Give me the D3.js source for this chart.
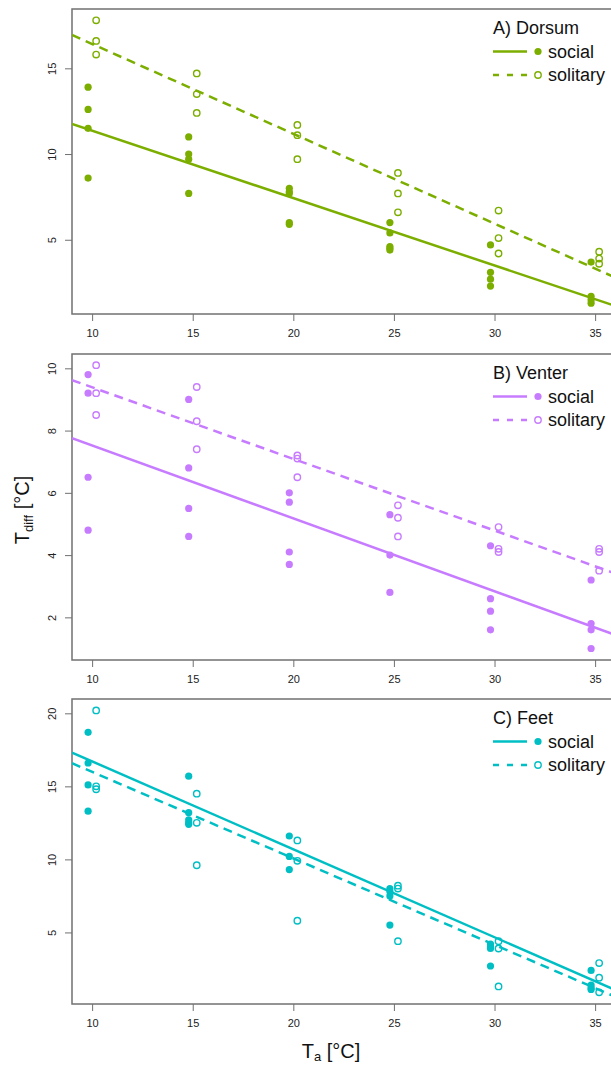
<!DOCTYPE html>
<html>
<head>
<meta charset="utf-8">
<script src="https://cdn.jsdelivr.net/npm/d3@7"></script>
<style>
  body { margin: 0; background: #fff; }
  svg { display: block; font-family: "Liberation Sans", Arial, sans-serif; }
</style>
</head>
<body>
<svg id="chart" width="611" height="1065"></svg>
<script>
// ambient temperatures (°C)
var temps = [10, 15, 20, 25, 30, 35]
var xTicks = [10, 15, 20, 25, 30, 35]

// T_diff readings per temperature
var dorsumSocial = [[13.9, 12.6, 11.5, 8.6], [11.0, 10.0, 9.7, 7.7], [8.0, 7.8, 7.7, 6.0, 5.9],
  [6.0, 5.4, 4.6, 4.5, 4.4], [4.7, 3.1, 2.7, 2.3], [3.7, 1.7, 1.5, 1.3]]
var dorsumSolitary = [[17.8, 16.6, 15.8], [14.7, 13.5, 12.4], [11.7, 11.1, 9.7],
  [8.9, 7.7, 6.6], [6.7, 5.1, 4.2], [4.3, 3.9, 3.6]]
var venterSocial = [[9.8, 9.2, 6.5, 4.8], [9.0, 6.8, 5.5, 4.6], [6.0, 5.7, 4.1, 3.7],
  [5.3, 4.0, 2.8], [4.3, 2.6, 2.2, 1.6], [3.2, 1.8, 1.6, 1.0]]
var venterSolitary = [[10.1, 9.2, 8.5], [9.4, 8.3, 7.4], [7.2, 7.1, 6.5],
  [5.6, 5.2, 4.6], [4.9, 4.2, 4.1], [4.2, 4.1, 3.5]]
var feetSocial = [[18.7, 16.6, 15.1, 13.3], [15.7, 13.2, 12.7, 12.5, 12.4], [11.6, 10.2, 9.3],
  [8.0, 7.8, 7.5, 5.5], [4.2, 4.0, 3.9, 2.7], [2.4, 1.4, 1.2, 1.1]]
var feetSolitary = [[20.2, 15.0, 14.8], [14.5, 12.5, 9.6], [11.3, 9.9, 5.8],
  [8.2, 8.0, 4.4], [4.4, 3.9, 1.3], [2.9, 1.9, 0.9]]

// regression fits: [intercept, slope]
var dorsumFit = [[15.29, -0.393], [21.66, -0.524]]
var venterFit = [[9.86, -0.234], [11.69, -0.230]]
var feetFit = [[22.73, -0.602], [21.91, -0.592]]

var panelTitles = ['A) Dorsum', 'B) Venter', 'C) Feet']
var groupNames = ['social', 'solitary']
var panelColors = ['#7CAE00', '#C77CFF', '#00BFC4']
var yDomains = [[0.67, 18.46], [0.63, 10.46], [0.1, 20.98]]
var yTickSets = [[5, 10, 15], [2, 4, 6, 8, 10], [5, 10, 15, 20]]

var panels = [
  { social: dorsumSocial, solitary: dorsumSolitary, fit: dorsumFit },
  { social: venterSocial, solitary: venterSolitary, fit: venterFit },
  { social: feetSocial, solitary: feetSolitary, fit: feetFit }
]

var layout = [
  { top: 9, bottom: 314 },
  { top: 354, bottom: 660 },
  { top: 699, bottom: 1004 }
]
var left = 72
var dash = '9,6'
var frameColor = '#707070'

var svg = d3.select('#chart')

var xScale = d3.scaleLinear().domain([9, 37]).range([left, left + 28 * 20.12])

panels.forEach(function (p, i) {
  var col = panelColors[i]
  var top = layout[i].top, bottom = layout[i].bottom
  var yScale = d3.scaleLinear().domain(yDomains[i]).range([bottom, top])
  var g = svg.append('g')

  g.append('clipPath').attr('id', 'clip' + i)
    .append('rect')
    .attr('x', xScale.range()[0]).attr('y', top)
    .attr('width', xScale.range()[1] - xScale.range()[0]).attr('height', bottom - top)

  // frame
  g.append('rect')
    .attr('x', xScale.range()[0]).attr('y', top)
    .attr('width', xScale.range()[1] - xScale.range()[0]).attr('height', bottom - top)
    .attr('fill', 'none').attr('stroke', frameColor).attr('stroke-width', 1.5)

  // x axis
  var xAxis = g.append('g').attr('transform', 'translate(0,' + bottom + ')')
    .call(d3.axisBottom(xScale).tickValues(xTicks).tickSize(7).tickPadding(8).tickFormat(d3.format('d')))
  xAxis.select('.domain').remove()
  xAxis.selectAll('line').attr('stroke', frameColor)
  xAxis.selectAll('text').attr('font-size', 11).attr('fill', '#222')
    .attr('font-family', '"Liberation Sans", Arial, sans-serif')

  // y axis
  var yAxis = g.append('g').attr('transform', 'translate(' + left + ',0)')
    .call(d3.axisLeft(yScale).tickValues(yTickSets[i]).tickSize(7).tickFormat(d3.format('d')))
  yAxis.select('.domain').remove()
  yAxis.selectAll('line').attr('stroke', frameColor)
  yAxis.selectAll('text')
    .attr('font-size', 11).attr('fill', '#222')
    .attr('font-family', '"Liberation Sans", Arial, sans-serif')
    .attr('text-anchor', 'middle')
    .attr('x', null).attr('dy', null)
    .attr('transform', 'translate(-20,0) rotate(-90)')
    .attr('dy', '0.35em')

  // fitted lines
  var plot = g.append('g').attr('clip-path', 'url(#clip' + i + ')')
  p.fit.forEach(function (f, k) {
    plot.append('line')
      .attr('x1', xScale(9)).attr('x2', xScale(37))
      .attr('y1', yScale(f[0] + f[1] * 9)).attr('y2', yScale(f[0] + f[1] * 37))
      .attr('stroke', col).attr('stroke-width', 2.5)
      .attr('stroke-dasharray', k === 1 ? dash : null)
  })

  // points
  var socialPts = [], solitaryPts = []
  temps.forEach(function (t, j) {
    p.social[j].forEach(function (v) { socialPts.push([t - 0.2, v]) })
    p.solitary[j].forEach(function (v) { solitaryPts.push([t + 0.2, v]) })
  })
  plot.selectAll('circle.soc').data(socialPts).enter().append('circle')
    .attr('class', 'soc')
    .attr('cx', d => xScale(d[0])).attr('cy', d => yScale(d[1]))
    .attr('r', 3.6).attr('fill', col)
  plot.selectAll('circle.sol').data(solitaryPts).enter().append('circle')
    .attr('class', 'sol')
    .attr('cx', d => xScale(d[0])).attr('cy', d => yScale(d[1]))
    .attr('r', 3.2).attr('fill', 'none').attr('stroke', col).attr('stroke-width', 1.4)

  // legend
  var lg = g.append('g').attr('transform', 'translate(493,' + top + ')')
  lg.append('text').attr('x', 0).attr('y', 19).attr('dy', '0.35em')
    .attr('font-size', 18).attr('fill', '#111').text(panelTitles[i])
  groupNames.forEach(function (name, k) {
    var yy = 42.5 + k * 23.5
    lg.append('line').attr('x1', 0).attr('x2', 34).attr('y1', yy).attr('y2', yy)
      .attr('stroke', col).attr('stroke-width', 2.5)
      .attr('stroke-dasharray', k === 1 ? '6,8' : null)
    lg.append('circle').attr('cx', 45).attr('cy', yy)
      .attr('r', k === 0 ? 3.6 : 3.2)
      .attr('fill', k === 0 ? col : 'none')
      .attr('stroke', k === 0 ? null : col).attr('stroke-width', 1.4)
    lg.append('text').attr('x', 55).attr('y', yy).attr('dy', '0.35em')
      .attr('font-size', 18).attr('fill', '#111').text(name)
  })
})

// axis titles
var xt = svg.append('text').attr('x', 331).attr('y', 1058)
  .attr('text-anchor', 'middle').attr('font-size', 20).attr('fill', '#111')
xt.append('tspan').text('T')
xt.append('tspan').attr('font-size', 13).attr('dy', 3).text('a')
xt.append('tspan').attr('dy', -3).text(' [°C]')

var yt = svg.append('text').attr('transform', 'translate(29,510) rotate(-90)')
  .attr('text-anchor', 'middle').attr('font-size', 20).attr('fill', '#111')
yt.append('tspan').text('T')
yt.append('tspan').attr('font-size', 13).attr('dy', 4).text('diff')
yt.append('tspan').attr('dy', -4).text(' [°C]')
</script>
</body>
</html>
